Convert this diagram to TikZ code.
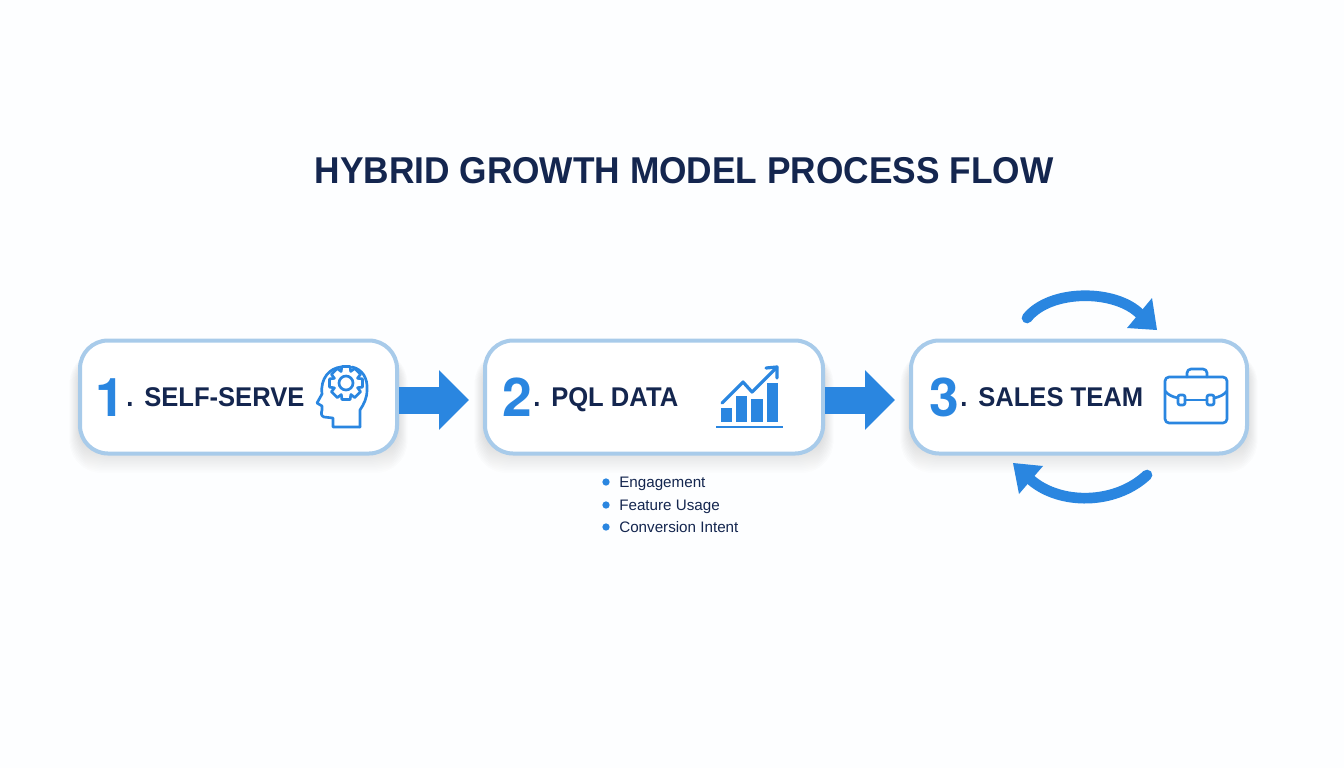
\documentclass[tikz,border=0pt]{standalone}
\usepackage{fontspec}
\setmainfont{Liberation Sans}
\newfontfamily\titlef[FakeStretch=0.945]{Liberation Sans}
\newfontfamily\narrowf[FakeStretch=0.945]{Liberation Sans}
\newfontfamily\numf{TeX Gyre Heros}
\usetikzlibrary{arrows.meta,calc}
\definecolor{navy}{HTML}{14264F}
\definecolor{blueA}{HTML}{2A86E0}
\definecolor{edgeblue}{HTML}{A8CBEA}
\definecolor{shade}{HTML}{6C8CB0}
\definecolor{paper}{HTML}{FDFEFF}
\tikzset{
  stage/.style={draw=edgeblue,line width=3pt,fill=white,rounded corners=21pt,minimum height=84.75pt,inner sep=0pt},
  titletext/.style={font=\titlef\bfseries\fontsize{28}{32}\selectfont,text=navy},
  numtext/.style={font=\numf\bfseries\fontsize{40}{44}\selectfont,text=blueA,anchor=base west,inner sep=0pt},
  labeltext/.style={font=\narrowf\bfseries\fontsize{20.3}{24}\selectfont,text=navy,anchor=base west,inner sep=0pt},
  bullettext/.style={font=\fontsize{11.4}{13}\selectfont,text=navy,anchor=base west,inner sep=0pt},
  bulletdot/.style={circle,fill=blueA,minimum size=5.5pt,inner sep=0pt},
  flowarrow/.style={draw=blueA,line width=20.25pt,-{Triangle[length=22.5pt,width=43.5pt,fill=blueA]}},
  loopline/.style={draw=blueA,line width=8pt,line cap=round},
  icon/.style={draw=blueA,line width=2pt,line cap=round,line join=round},
}
\newcommand{\softshadow}[4]{%
  \foreach \i in {1,...,16}{
    \fill[shade,opacity=0.0075,rounded corners=24pt]
      ({#1+6-0.9*\i},{#3+12}) rectangle ({#2-6+0.9*\i},{#4-6+1.5*\i});
  }%
}
\begin{document}
\begin{tikzpicture}[x=0.75pt,y=-0.75pt]
\useasboundingbox (0,0) rectangle (1344,768);
\fill[paper] (0,0) rectangle (1344,768);

\node[titletext] (title) at (684,171) {HYBRID GROWTH MODEL PROCESS FLOW};

% shadows
\softshadow{78}{399}{339}{455}
\softshadow{483}{825}{339}{455}
\softshadow{909}{1249}{339}{455}

% stages
\node[stage,minimum width=237.75pt] (b1) at (238.5,397) {};
\node[stage,minimum width=253.5pt] (b2) at (654,397) {};
\node[stage,minimum width=252pt] (b3) at (1079,397) {};

% flow arrows
\draw[flowarrow,shorten >=10.5pt] ($(b1.east)+(0,3)$) -- ($(b2.west)+(0,3)$);
\draw[flowarrow,shorten >=10.5pt] ($(b2.east)+(0,3)$) -- ($(b3.west)+(0,3)$);

% labels
\node[numtext] (n1) at (95,416) {1};
\node[labeltext] (d1) at (126,406.5) {.};
\node[labeltext] (l1) at (144,406.5) {SELF-SERVE};
\node[numtext] (n2) at (502,416) {2};
\node[labeltext] (d2) at (533,406.5) {.};
\node[labeltext] (l2) at (551,406.5) {PQL DATA};
\node[numtext] (n3) at (929,416) {3};
\node[labeltext] (d3) at (960,406.5) {.};
\node[labeltext] (l3) at (978,406.5) {SALES TEAM};

% head icon
\draw[icon] (360,427) -- (333,427) -- (333,418) -- (324,417) .. controls (321,416) and (321,413) .. (322,410)
  -- (322,406) -- (317,403) -- (322,394) .. controls (320,378) and (330,368) .. (341,367);
\draw[icon] (352,367) .. controls (362,369) and (368,378) .. (367,390)
  .. controls (367,398) and (364,404) .. (360,410) -- (360,427);
\begin{scope}[shift={(346,383)}]
\draw[icon,fill=white] (-22:12.5)
  \foreach \a in {0,45,...,315}{
    -- (\a-14:17) -- (\a+14:17) -- (\a+22:12.5)
  } -- cycle;
\draw[icon] (0,0) circle[radius=7];
\end{scope}

% chart icon
\fill[blueA] (721,408) rectangle (732,422);
\fill[blueA] (736,396) rectangle (747,422);
\fill[blueA] (751,399) rectangle (763,422);
\fill[blueA] (767,383) rectangle (778,422);
\draw[blueA,line width=2.2pt] (716,427) -- (783,427);
\draw[icon,line width=2.4pt] (722,403) -- (743,382) -- (752,392) -- (777,367);
\draw[icon,line width=2.4pt] (766,368) -- (777,367) -- (777,378);

% briefcase icon
\draw[icon,rounded corners=3pt] (1165,377) rectangle (1227,423);
\draw[icon,rounded corners=3pt] (1187,377) -- (1187,369) -- (1207,369) -- (1207,377);
\draw[icon] (1165,391) .. controls (1168,395) and (1173,397) .. (1178,398);
\draw[icon] (1227,391) .. controls (1224,395) and (1219,397) .. (1214,398);
\draw[icon] (1185,400) -- (1207,400);
\draw[icon,rounded corners=1.5pt] (1178,395) rectangle (1185,405);
\draw[icon,rounded corners=1.5pt] (1207,395) rectangle (1214,405);

% loop arrows
\coordinate (ta) at (1027,318);
\coordinate (tb) at (1140,314);
\coordinate (ba) at (1147,475);
\coordinate (bb) at (1031,480);
\draw[loopline] (ta) .. controls (1050,289) and (1115,289) .. (tb);
\fill[blueA] (1157,330) -- (1152,298) -- (1127,328) -- cycle;
\draw[loopline] (ba) .. controls (1115,505) and (1060,505) .. (bb);
\fill[blueA] (1013,463) -- (1043,466) -- (1019,494) -- cycle;

% bullets
\node[bulletdot] (p1) at (606,482) {};
\node[bulletdot] (p2) at (606,505) {};
\node[bulletdot] (p3) at (606,527) {};
\node[bullettext] (t1) at (619,487) {Engagement};
\node[bullettext] (t2) at (619,510) {Feature Usage};
\node[bullettext] (t3) at (619,532) {Conversion Intent};
\end{tikzpicture}
\end{document}
